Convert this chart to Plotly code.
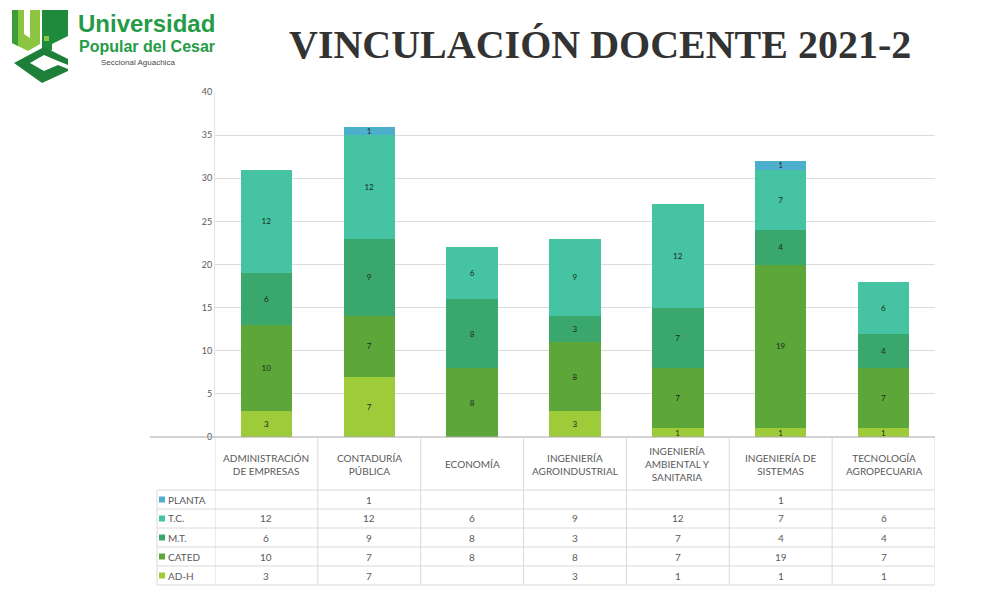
import plotly.graph_objects as go

# page body has an 8px margin: the figure is drawn 8px right/down
OFF = 8
W, H = 994 - 2 * OFF, 595 - 2 * OFF

categories = ["ADMINISTRACIÓN<br>DE EMPRESAS", "CONTADURÍA<br>PÚBLICA", "ECONOMÍA",
              "INGENIERÍA<br>AGROINDUSTRIAL", "INGENIERÍA<br>AMBIENTAL Y<br>SANITARIA",
              "INGENIERÍA DE<br>SISTEMAS", "TECNOLOGÍA<br>AGROPECUARIA"]
ad_h = [3, 7, None, 3, 1, 1, 1]
cated = [10, 7, 8, 8, 7, 19, 7]
mt = [6, 9, 8, 3, 7, 4, 4]
tc = [12, 12, 6, 9, 12, 7, 6]
planta = [None, 1, None, None, None, 1, None]

series_names = ["PLANTA", "T.C.", "M.T.", "CATED", "AD-H"]
series_values = [planta, tc, mt, cated, ad_h]
series_colors = ["#4DAFCB", "#45C3A2", "#3AA86C", "#5DA63A", "#9DCB3A"]
y_ticks = [0, 5, 10, 15, 20, 25, 30, 35, 40]

title_text = "<b>VINCULACIÓN DOCENTE 2021-2</b>"


def px(x):
    return (x - OFF) / W


def py(y):
    return 1 - (y - OFF) / H


def path(points):
    return "M " + " L ".join(f"{px(a):.5f},{py(b):.5f}" for a, b in points) + " Z"


xs = list(range(len(categories)))
fig = go.Figure()

# stack from bottom: AD-H, CATED, M.T., T.C., PLANTA
for name, vals, col in reversed(list(zip(series_names, series_values, series_colors))):
    fig.add_trace(go.Bar(
        x=xs, y=vals, name=name, marker=dict(color=col, line=dict(width=0)),
        width=0.5,
        text=[("" if v is None else str(v)) for v in vals],
        textposition="inside", insidetextanchor="middle", textangle=0,
        constraintext="none",
        textfont=dict(family="Lato", size=8, color="#1c2a1c"),
        showlegend=False, hoverinfo="skip",
    ))

shapes = []
annotations = []

# title
annotations.append(dict(x=px(600), y=py(45), xref="paper", yref="paper", text=title_text,
                        showarrow=False, xanchor="center", yanchor="middle",
                        font=dict(family="Liberation Serif", size=40, color="#333333")))

# logo text
annotations.append(dict(x=px(76), y=py(24), xref="paper", yref="paper", text="<b>Universidad</b>",
                        showarrow=False, xanchor="left", yanchor="middle",
                        font=dict(family="Liberation Sans", size=24, color="#259B47")))
annotations.append(dict(x=px(77), y=py(46), xref="paper", yref="paper", text="<b>Popular del Cesar</b>",
                        showarrow=False, xanchor="left", yanchor="middle",
                        font=dict(family="Liberation Sans", size=16, color="#259B47")))
annotations.append(dict(x=px(138), y=py(62), xref="paper", yref="paper", text="Seccional Aguachica",
                        showarrow=False, xanchor="center", yanchor="middle",
                        font=dict(family="Liberation Sans", size=8, color="#4a4a4a")))

# logo icon
shapes.append(dict(type="path", xref="paper", yref="paper", line=dict(width=0), fillcolor="#8CC540",
                   path=path([(12, 10), (24, 10), (24, 34), (30, 38), (30, 10), (40, 10), (40, 44), (28, 51), (12, 43)])))
shapes.append(dict(type="path", xref="paper", yref="paper", line=dict(width=0), fillcolor="#3F9C3A",
                   path=path([(12, 10), (18, 10), (18, 46), (12, 43)])))
shapes.append(dict(type="path", xref="paper", yref="paper", line=dict(width=0), fillcolor="#1F8A3B",
                   path=path([(42, 10), (68, 10), (68, 36), (52, 44), (52, 50), (42, 55)])))
shapes.append(dict(type="path", xref="paper", yref="paper", line=dict(width=0), fillcolor="#8CC540",
                   path=path([(44, 36), (49, 36), (49, 41), (44, 41)])))
shapes.append(dict(type="path", xref="paper", yref="paper", line=dict(width=0), fillcolor="#1E7F38",
                   path=path([(14, 63), (44, 47), (68, 59), (68, 65), (58, 61), (44, 55), (30, 63), (44, 71),
                              (58, 65), (68, 69), (68, 71), (42, 83)])))

# x axis baseline
shapes.append(dict(type="line", xref="paper", yref="paper", x0=px(150), x1=px(935), y0=py(437), y1=py(437),
                   line=dict(color="#a6a6a6", width=1)))

# table grid
row_lines = [490, 509, 528, 547, 566, 585]
for yy in row_lines:
    shapes.append(dict(type="line", xref="paper", yref="paper", x0=px(157), x1=px(935), y0=py(yy), y1=py(yy),
                       line=dict(color="#d9d9d9", width=1)))
for i in range(len(categories) + 1):
    shapes.append(dict(type="line", xref="x", yref="paper", x0=i - 0.5, x1=i - 0.5, y0=py(437), y1=py(585),
                       line=dict(color="#d9d9d9", width=1)))
shapes.append(dict(type="line", xref="paper", yref="paper", x0=px(157), x1=px(157), y0=py(490), y1=py(585),
                   line=dict(color="#d9d9d9", width=1)))

# header labels
for i, c in enumerate(categories):
    annotations.append(dict(x=i, y=py(464), xref="x", yref="paper", text=c, showarrow=False,
                            xanchor="center", yanchor="middle",
                            font=dict(family="Lato", size=10, color="#595959")))

# rows
row_centers = [(a + b) / 2 for a, b in zip(row_lines[:-1], row_lines[1:])]
for name, vals, col, yc in zip(series_names, series_values, series_colors, row_centers):
    shapes.append(dict(type="rect", xref="paper", yref="paper", x0=px(159), x1=px(165),
                       y0=py(yc + 3), y1=py(yc - 3), line=dict(width=0), fillcolor=col))
    annotations.append(dict(x=px(166), y=py(yc), xref="paper", yref="paper", text=name, showarrow=False,
                            xanchor="left", yanchor="middle",
                            font=dict(family="Lato", size=10, color="#595959")))
    for i, v in enumerate(vals):
        if v is not None:
            annotations.append(dict(x=i, y=py(yc), xref="x", yref="paper", text=str(v), showarrow=False,
                                    xanchor="center", yanchor="middle",
                                    font=dict(family="Lato", size=10, color="#595959")))

fig.update_layout(
    width=W, height=H, template="none",
    margin=dict(l=0, r=0, t=0, b=0),
    paper_bgcolor="white", plot_bgcolor="white",
    barmode="stack", bargap=0.5,
    xaxis=dict(domain=[px(215), px(935)], range=[-0.5, 6.5], showticklabels=False, showgrid=False,
               zeroline=False, showline=False, ticks="", automargin=False, fixedrange=True),
    yaxis=dict(domain=[py(437), py(92)], range=[0, 40], tickvals=y_ticks, showgrid=True,
               gridcolor="#dcdcdc", gridwidth=1, zeroline=False, showline=True, linecolor="#e3e3e3",
               ticks="", tickfont=dict(family="Lato", size=9, color="#595959"), automargin=False),
    shapes=shapes, annotations=annotations,
)

fig.write_html("out.html")
